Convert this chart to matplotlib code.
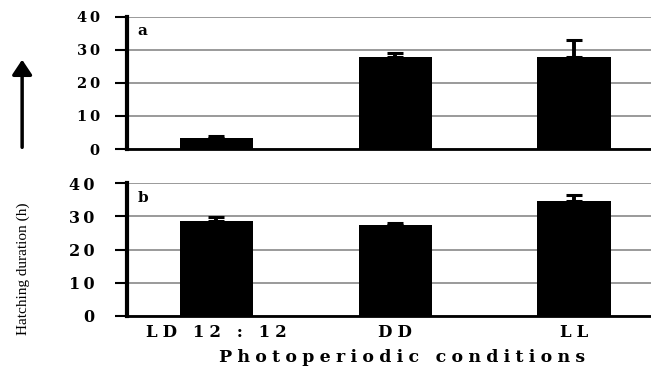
import numpy as np
import matplotlib
matplotlib.use("Agg")
import matplotlib.pyplot as plt

# Hatching duration (h) under each photoperiod, two experiments (a, b)
conditions = ["LD 12 : 12", "DD", "LL"]
dur_a = [3.2, 28.0, 28.0]
err_a = [0.6, 1.1, 5.0]
dur_b = [28.5, 27.3, 34.5]
err_b = [1.4, 0.8, 1.8]
yticks = [0, 10, 20, 30, 40]


def spaced(s, gap="\u2009"):
    # letter-spaced lettering
    return gap.join(s)


fig = plt.figure(figsize=(6.51, 3.67), dpi=100)
ax_a = fig.add_axes([0.195, 0.594, 0.805, 0.360])
ax_b = fig.add_axes([0.195, 0.139, 0.805, 0.362])

x = np.arange(len(conditions))
panels = [(ax_a, dur_a, err_a, "a", 11, 10.5), (ax_b, dur_b, err_b, "b", 15, 11.5)]
for ax, vals, errs, tag, pad, fs in panels:
    ax.bar(x, vals, width=0.41, color="black", zorder=3)
    ax.errorbar(x, vals, yerr=[np.zeros(len(errs)), errs], fmt="none",
                ecolor="black", elinewidth=2.8, capsize=5.5, capthick=2.2, zorder=4)
    ax.set_xlim(-0.5, 2.43)
    ax.set_ylim(0, 40)
    ax.set_yticks(yticks)
    ax.set_yticklabels([spaced(str(t)) for t in yticks],
                       fontdict=dict(family="DejaVu Serif", weight="bold", size=fs))
    ax.yaxis.grid(True, color="#9a9a9a", linewidth=1.4, zorder=0)
    ax.set_axisbelow(True)
    for s in ["top", "right"]:
        ax.spines[s].set_visible(False)
    ax.spines["left"].set_linewidth(3)
    ax.spines["bottom"].set_linewidth(2)
    ax.tick_params(axis="y", length=8.5, width=1.5, pad=pad)
    ax.tick_params(axis="x", length=0)
    ax.text(0.02, 0.86, tag, transform=ax.transAxes,
            fontdict=dict(family="DejaVu Serif", weight="bold", size=11))

ax_a.set_xticks([])
ax_b.set_xticks(x)
ax_b.set_xticklabels([spaced(c, "\u2009\u200a") for c in conditions],
                     fontdict=dict(family="DejaVu Serif", weight="bold", size=12))
ax_b.tick_params(axis="x", pad=6)
ax_b.set_xlabel(spaced("Photoperiodic conditions", "\u2009\u200a"), family="DejaVu Serif",
                weight="bold", size=12.5)
ax_b.xaxis.set_label_coords(0.525, -0.25)

fig.text(0.035, 0.267, "Hatching duration (h)", rotation=90, ha="center", va="center",
         family="Liberation Serif", size=11)
fig.add_artist(matplotlib.patches.FancyArrowPatch(
    (0.034, 0.591), (0.034, 0.845), transform=fig.transFigure,
    arrowstyle="-|>,head_length=0.6,head_width=0.4", mutation_scale=15,
    color="black", linewidth=2.5))

fig.savefig("out.png", dpi=100)
